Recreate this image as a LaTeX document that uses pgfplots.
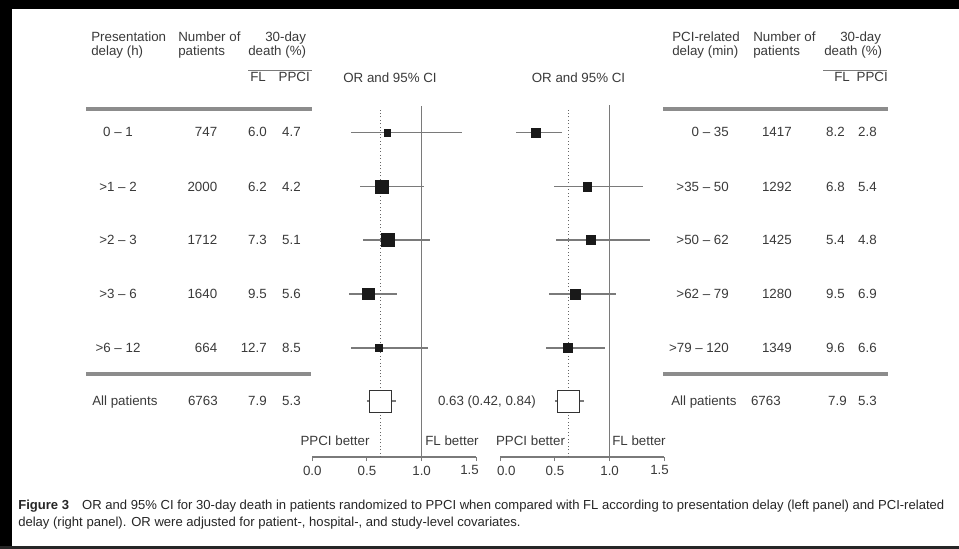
\documentclass[border=0pt]{standalone}
\usepackage{pgfplots}
\pgfplotsset{compat=1.18}
\usepackage{pgfplotstable}
\usepackage{fontspec}
\setmainfont{Liberation Sans}
\newfontfamily\capfont{Liberation Sans}
\definecolor{tcol}{HTML}{3A3A3A}
\definecolor{lcol}{HTML}{7A7A7A}
\definecolor{sepcol}{HTML}{8C8C8C}
\newcommand{\tf}{\fontsize{10}{12}\selectfont}

% or = odds ratio, y = row height above axis line (px), lo/hi = 95% CI, s = square side (px)
\pgfplotstableread{
or    y     lo    hi    s
0.686 324.5 0.354 1.367 6.7
0.638 270.5 0.436 1.022 13.3
0.693 217.0 0.467 1.077 12.7
0.512 163.0 0.339 0.778 11.3
0.607 109.0 0.357 1.061 6.7
}\lefttab
\pgfplotstableread{
or    y     lo    hi    s
0.324 324.5 0.144 0.562 9.3
0.796 270.5 0.494 1.308 8.7
0.830 217.0 0.510 1.370 9.0
0.683 163.0 0.448 1.059 10.0
0.617 109.0 0.415 0.958 9.0
}\righttab

\pgfplotsset{forest/.style={
  anchor=south west, x=81.975pt, y=0.75pt,
  xmin=0, xmax=1.5, ymin=0, ymax=357,
  axis x line*=bottom, axis y line=none, clip=false,
  x axis line style={-},
  xtick={0,0.5,1,1.5}, tick align=outside, major tick length=3pt,
  axis line style={lcol, line width=0.8pt}, tick style={lcol, line width=0.8pt},
  tick label style={font=\tf, text=tcol, inner sep=0.333em},
  ci/.style={lcol, line width=0.9pt},
}}

\begin{document}
\begin{tikzpicture}[x=0.75pt,y=-0.75pt, font=\tf, text=tcol, every node/.append style={inner sep=0pt}]
\useasboundingbox (0,0) rectangle (959,549);
\fill[white] (0,0) rectangle (959,549);
\fill[black] (0,0) rectangle (959,9.5);
\fill[black] (0,0) rectangle (12,549);
\fill[black!85] (0,545.5) rectangle (959,549);

% ---------- left table ----------
\node[anchor=base west] at (91,42) {Presentation};
\node[anchor=base west] at (91,56) {delay (h)};
\node[anchor=base west] at (178,42) {Number of};
\node[anchor=base west] at (178,56) {patients};
\node[anchor=base west] at (265,42) {30-day};
\node[anchor=base west] at (248,56) {death (\%)};
\draw[lcol, line width=0.8pt] (248,70.7) -- (312,70.7);
\node[anchor=base west] at (250,82) {FL};
\node[anchor=base east] at (310,82) {PPCI};
\node[anchor=base] at (390,83) {OR and 95\% CI};
\draw[sepcol, line width=3pt] (86,109) -- (312,109);
\draw[sepcol, line width=3pt] (86,374) -- (311,374);

\foreach \b/\a/\n/\f/\p in {137/0 -- 1/747/6.0/4.7, 191.5/>1 -- 2/2000/6.2/4.2, 244.5/>2 -- 3/1712/7.3/5.1, 298.5/>3 -- 6/1640/9.5/5.6, 352.5/>6 -- 12/664/12.7/8.5}{
  \node[anchor=base] at (118,\b) {\a};
  \node[anchor=base east] at (217.5,\b) {\n};
  \node[anchor=base east] at (267,\b) {\f};
  \node[anchor=base east] at (301,\b) {\p};
}
\node[anchor=base west] at (92,405.5) {All patients};
\node[anchor=base east] at (218,405.5) {6763};
\node[anchor=base east] at (267,405.5) {7.9};
\node[anchor=base east] at (301,405.5) {5.3};

% ---------- right table ----------
\node[anchor=base west] at (672,42) {PCI-related};
\node[anchor=base west] at (672,56) {delay (min)};
\node[anchor=base west] at (753,42) {Number of};
\node[anchor=base west] at (753,56) {patients};
\node[anchor=base west] at (840,42) {30-day};
\node[anchor=base west] at (824,56) {death (\%)};
\draw[lcol, line width=0.8pt] (823,70.7) -- (887,70.7);
\node[anchor=base west] at (834,82) {FL};
\node[anchor=base east] at (888,82) {PPCI};
\node[anchor=base] at (578.5,83) {OR and 95\% CI};
\draw[sepcol, line width=3pt] (663,109) -- (888,109);
\draw[sepcol, line width=3pt] (663,374) -- (888,374);

\foreach \b/\a/\n/\f/\p in {137/0 -- 35/1417/8.2/2.8, 191.5/>35 -- 50/1292/6.8/5.4, 244.5/>50 -- 62/1425/5.4/4.8, 298.5/>62 -- 79/1280/9.5/6.9, 352.5/>79 -- 120/1349/9.6/6.6}{
  \node[anchor=base east] at (729,\b) {\a};
  \node[anchor=base east] at (792,\b) {\n};
  \node[anchor=base east] at (845,\b) {\f};
  \node[anchor=base east] at (877,\b) {\p};
}
\node[anchor=base west] at (671,405.5) {All patients};
\node[anchor=base east] at (781,405.5) {6763};
\node[anchor=base east] at (847,405.5) {7.9};
\node[anchor=base east] at (877,405.5) {5.3};

% ---------- forest labels ----------
\node[anchor=base] at (487,405.5) {0.63 (0.42, 0.84)};
\node[anchor=base] at (335,445) {PPCI better};
\node[anchor=base] at (452,445) {FL better};
\node[anchor=base] at (530.5,445) {PPCI better};
\node[anchor=base] at (639,445) {FL better};

% ---------- left forest ----------
\begin{axis}[forest, at={(234.225pt,-342.75pt)},
  xticklabels={0.0,0.5,1.0,\hspace*{-10pt}1.5}]
\addplot[lcol, line width=1.1pt] coordinates {(1,0) (1,351)};
\addplot[black!60, line width=0.6pt, dotted] coordinates {(0.62,0) (0.62,350)};
\addplot[only marks, mark=none, error bars/.cd, x dir=both, x explicit, error mark=none,
  error bar style={lcol, line width=0.9pt}]
  table[x=or, y=y, x error minus expr=\thisrow{or}-\thisrow{lo}, x error plus expr=\thisrow{hi}-\thisrow{or}] {\lefttab};
\addplot[scatter, only marks, mark=square*, scatter/use mapped color={draw=black!90, fill=black!90},
  visualization depends on={0.375*\thisrow{s}\as\ms},
  scatter/@pre marker code/.append style={/tikz/mark size=\ms}] table[x=or, y=y] {\lefttab};
\addplot[ci] coordinates {(0.50,56) (0.77,56)};
\addplot[only marks, mark=square*, mark size=8.25pt, mark options={fill=white, draw=black!80, line width=0.6pt}] coordinates {(0.62,56)};
\end{axis}

% ---------- right forest ----------
\begin{axis}[forest, at={(375.225pt,-342.75pt)},
  xticklabels={0.0\hspace*{-9pt},0.5,1.0,\hspace*{-7pt}1.5}]
\addplot[lcol, line width=1.1pt] coordinates {(1,0) (1,352)};
\addplot[black!60, line width=0.6pt, dotted] coordinates {(0.62,0) (0.62,350)};
\addplot[only marks, mark=none, error bars/.cd, x dir=both, x explicit, error mark=none,
  error bar style={lcol, line width=0.9pt}]
  table[x=or, y=y, x error minus expr=\thisrow{or}-\thisrow{lo}, x error plus expr=\thisrow{hi}-\thisrow{or}] {\righttab};
\addplot[scatter, only marks, mark=square*, scatter/use mapped color={draw=black!90, fill=black!90},
  visualization depends on={0.375*\thisrow{s}\as\ms},
  scatter/@pre marker code/.append style={/tikz/mark size=\ms}] table[x=or, y=y] {\righttab};
\addplot[ci] coordinates {(0.50,56) (0.77,56)};
\addplot[only marks, mark=square*, mark size=8.25pt, mark options={fill=white, draw=black!80, line width=0.6pt}] coordinates {(0.62,56)};
\end{axis}

% ---------- caption ----------
\node[anchor=base west, text=black!85, font=\capfont\fontsize{9.8}{11}\selectfont] at (18,509)
  {\textbf{Figure 3}\quad OR and 95\% CI for 30-day death in patients randomized to PPCI when compared with FL according to presentation delay (left panel) and PCI-related};
\node[anchor=base west, text=black!85, font=\capfont\fontsize{9.8}{11}\selectfont] at (18,526)
  {delay (right panel). OR were adjusted for patient-, hospital-, and study-level covariates.};
\end{tikzpicture}
\end{document}
